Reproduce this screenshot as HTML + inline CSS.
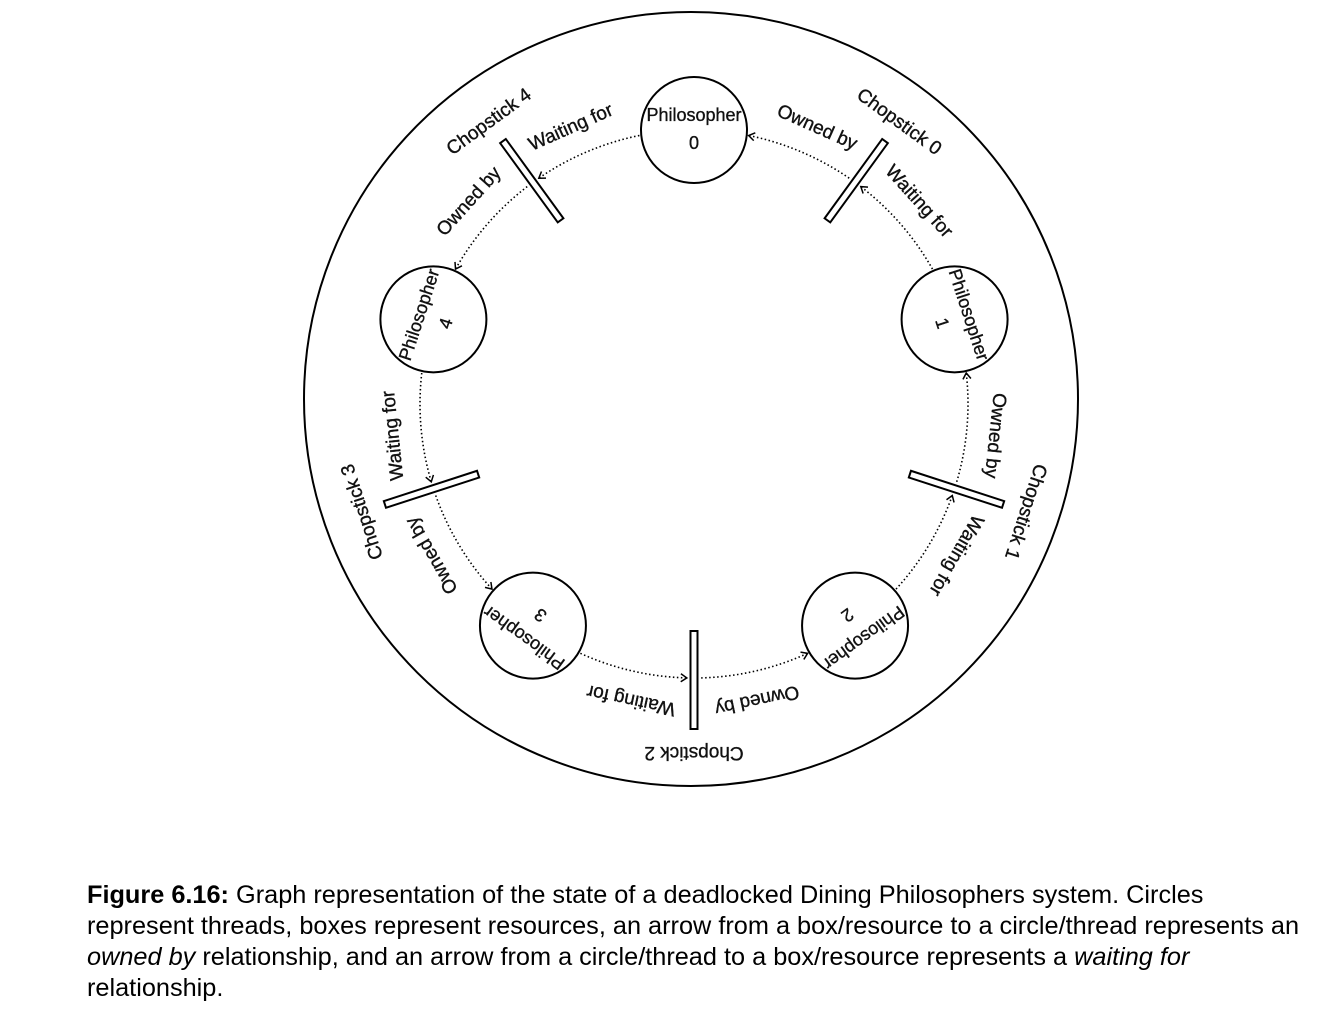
<!DOCTYPE html>
<html><head><meta charset="utf-8"><style>
body{margin:0;background:#fff;width:1334px;height:1024px;overflow:hidden;position:relative}
#cap{position:absolute;left:87px;top:880px;width:1240px;white-space:nowrap;font:25.3px/31px "Liberation Sans",Arial,sans-serif;color:#000}
svg text{font-family:"Liberation Sans Narrow","Liberation Sans",sans-serif;fill:#111;stroke:#111;stroke-width:0.35}
</style></head><body>
<svg id="d" width="1334" height="870" style="position:absolute;left:0;top:0">
<defs><marker id="ah" markerWidth="10" markerHeight="10" refX="8" refY="5" orient="auto" markerUnits="userSpaceOnUse"><path d="M2,1 L8,5 L2,9" fill="none" stroke="#000" stroke-width="1.5"/></marker></defs>
<circle cx="691" cy="399" r="387" fill="none" stroke="#000" stroke-width="2"/>
<g id="g"></g>
</svg>
<div id="cap"><b>Figure 6.16:</b> Graph representation of the state of a deadlocked Dining Philosophers system. Circles<br>represent threads, boxes represent resources, an arrow from a box/resource to a circle/thread represents an<br><i>owned by</i> relationship, and an arrow from a circle/thread to a box/resource represents a <i>waiting for</i><br>relationship.</div>
<script>
const philosophers=[0,1,2,3,4];
const chopsticks=[0,1,2,3,4];
const CX=694,CY=404,R=274,NS="http://www.w3.org/2000/svg";
const g=document.getElementById('g');
function pt(a,r){const t=a*Math.PI/180;return [CX+r*Math.sin(t),CY-r*Math.cos(t)];}
function mk(tag,at){const e=document.createElementNS(NS,tag);for(const k in at)e.setAttribute(k,at[k]);g.appendChild(e);return e;}
function txt(s,a,r,fs,name){const [x,y]=pt(a,r);const t=mk('text',{x:x,y:y,'font-size':fs,'text-anchor':'middle','dominant-baseline':'middle',transform:`rotate(${a} ${x} ${y})`});t.textContent=s;

return t;}
function arc(a1,a2,name){const [x1,y1]=pt(a1,R),[x2,y2]=pt(a2,R);const sw=a2>a1?1:0;
const p=mk('path',{d:`M${x1},${y1} A${R},${R} 0 0 ${sw} ${x2},${y2}`,fill:'none',stroke:'#000','stroke-width':1.6,'stroke-dasharray':'1.5 2.5','marker-end':'url(#ah)'});

}
chopsticks.forEach(k=>{const a=36+72*k;
arc(a-1.5,a-36+11.5,'owned-by-arrow-'+k);
arc(a+36-11.5,a+1.5,'waiting-for-arrow-'+k);});
philosophers.forEach(k=>{const a=k*72;const [x,y]=pt(a,R);
const c=mk('circle',{cx:x,cy:y,r:53,fill:'#fff',stroke:'#000','stroke-width':2});


const t=mk('text',{x:x,y:y,'font-size':18,'text-anchor':'middle',transform:`rotate(${a} ${x} ${y})`});


const s1=document.createElementNS(NS,'tspan');s1.setAttribute('x',x);s1.setAttribute('y',y-9);s1.textContent='Philosopher';t.appendChild(s1);
const s2=document.createElementNS(NS,'tspan');s2.setAttribute('x',x);s2.setAttribute('y',y+19);s2.textContent=String(k);t.appendChild(s2);});
chopsticks.forEach(k=>{const a=36+72*k;const [x,y]=pt(a,R+2);
const r=mk('rect',{x:x-3.5,y:y-49,width:7,height:98,fill:'#fff',stroke:'#000','stroke-width':2,transform:`rotate(${a} ${x} ${y})`});


txt('Chopstick '+k,a,348,19,'chopstick-label-'+k);
txt('Owned by',a-12,302,19,'owned-by-label-'+k);
txt('Waiting for',a+12,302,19,'waiting-for-label-'+k);});
</script>
</body></html>
